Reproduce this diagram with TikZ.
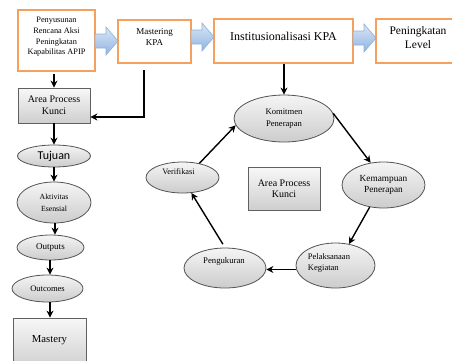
\documentclass[tikz,border=0pt]{standalone}
\usepackage{fontspec}
\setmainfont{Liberation Serif}
\newfontfamily\calib{Carlito}
\usetikzlibrary{shapes.geometric,arrows.meta,calc}
\definecolor{orangeb}{HTML}{F5A05C}
\definecolor{bluetop}{HTML}{DCE6F4}
\definecolor{bluebot}{HTML}{8EB4E3}
\definecolor{blueline}{HTML}{8FB0DA}
\newcommand{\fsz}[2]{\fontsize{#1}{#2}\selectfont}
\begin{document}
\begin{tikzpicture}[x=1pt,y=-1pt,
  obox/.style={draw=orangeb, line width=1.6pt, fill=white, inner sep=0pt},
  gbox/.style={draw=gray!75!black, line width=0.8pt, top color=gray!6, bottom color=gray!38, inner sep=0pt, align=center},
  ell/.style={ellipse, draw=gray!65!black, line width=0.8pt, top color=gray!8, bottom color=gray!40, inner sep=0pt, align=center},
  txt/.style={inner sep=0pt, align=center},
  arr/.style={-{Stealth[length=7pt,width=7pt]}, line width=1.4pt, black},
  barrow/.style={draw=blueline, line width=0.6pt, top color=bluetop, bottom color=bluebot}]
\useasboundingbox (0,0) rectangle (452,360);

% top orange boxes
\node[obox, minimum width=77, minimum height=61] (b1) at (56.5,40.5) {};
\node[txt, font=\fsz{8.3}{10.7}] (t1) at (56.5,37) {Penyusunan\\Rencana Aksi\\Peningkatan\\Kapabilitas APIP};
\node[obox, minimum width=73, minimum height=43] (b2) at (154.5,41.5) {};
\node[txt, font=\fsz{9}{11.5}] (t2) at (154.5,37) {Mastering\\KPA};
\node[obox, minimum width=139, minimum height=44] (b3) at (283.5,41) {};
\node[txt, font=\fsz{12}{14}] (t3) at (283.5,36) {Institusionalisasi KPA};
\node[obox, minimum width=84, minimum height=44] (b4) at (418,41) {};
\node[txt, font=\fsz{11.5}{14}] (t4) at (418,38) {Peningkatan\\Level};

% block arrows
\path[barrow] (95,34) -- (106,34) -- (106,27) -- (118,41) -- (106,55) -- (106,48) -- (95,48) -- cycle;
\path[barrow] (191,30) -- (202,30) -- (202,23) -- (214,37) -- (202,51) -- (202,44) -- (191,44) -- cycle;
\path[barrow] (353,31) -- (364,31) -- (364,24) -- (376,38) -- (364,52) -- (364,45) -- (353,45) -- cycle;

% left column
\node[gbox, minimum width=72, minimum height=35, font=\fsz{10}{11.7}] (apk1) at (54,105.5) {Area Process\\Kunci};
\node[ell, minimum width=73, minimum height=22, font=\calib\fsz{12}{14}] (tuj) at (54,156) {Tujuan};
\node[ell, minimum width=74, minimum height=41, font=\fsz{7.8}{12}] (akt) at (54,202.5) {Aktivitas\\Esensial};
\node[ell, minimum width=67, minimum height=25, font=\fsz{9}{11}] (outp) at (50.5,247.5) {Outputs};
\node[ell, minimum width=71, minimum height=27, font=\fsz{8.5}{11}] (outc) at (47.5,288.5) {Outcomes};
\node[gbox, minimum width=73, minimum height=50, font=\fsz{10.7}{12}] (mast) at (49.5,343) {};
\node[txt, font=\fsz{10.7}{12}] (mastt) at (49.5,340) {Mastery};

% cycle
\node[ell, minimum width=100, minimum height=47, font=\fsz{8.6}{11.7}] (kom) at (284,118.5) {Komitmen\\Penerapan};
\node[ell, minimum width=83, minimum height=46, font=\fsz{9.3}{11}] (kem) at (383.5,185) {Kemampuan\\Penerapan};
\node[ell, minimum width=79, minimum height=45] (pel) at (335.5,265.5) {};
\node[txt, align=left, font=\fsz{8.5}{11}] (pelt) at (329,262.5) {Pelaksanaan\\Kegiatan};
\node[ell, minimum width=82, minimum height=40] (peng) at (225,268) {};
\node[txt, font=\fsz{8.7}{11}] (pengt) at (224,261) {Pengukuran};
\node[ell, minimum width=73, minimum height=31] (ver) at (182.5,177.5) {};
\node[txt, font=\fsz{8.3}{11}] (vert) at (178.5,171.5) {Verifikasi};
\node[gbox, minimum width=72, minimum height=43, font=\fsz{10}{11}] (apk2) at (284,188.5) {Area Process\\Kunci};

% connectors
\draw[arr, shorten <=2pt] (apk1.north |- b1.south) -- (apk1.north);
\coordinate (c1) at (144,117);
\draw[arr] (144,70) -- (c1) -- (c1 -| apk1.east);
\draw[arr] (apk1.south) -- (tuj.north);
\draw[arr] (tuj.south) -- (akt.north);
\draw[arr] (akt.south -| 55,0) -- (outp.north -| 55,0);
\draw[arr] (outp.south -| 50,0) -- (outc.north -| 50,0);
\draw[arr] (outc.south -| 50,0) -- (mast.north -| 50,0);

\draw[arr] (b3.south -| kom.north) -- (kom.north);
\draw[arr] (kom.6) -- (kem.120);
\draw[arr] (kem.238) -- (pel.58);
\draw[arr] ([yshift=-4pt]pel.west) -- ([yshift=-4pt]pel.west -| peng.east);
\draw[arr, shorten <=4pt] (peng.north) -- (ver.300);
\draw[arr] (ver.40) -- (kom.188);
\end{tikzpicture}
\end{document}
